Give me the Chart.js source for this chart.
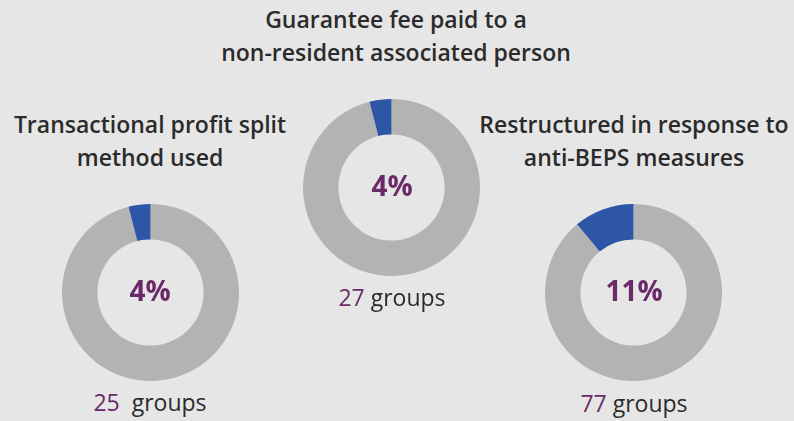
<!DOCTYPE html>
<html lang="en">
<head>
    <meta charset="UTF-8">
    <title>Transfer pricing shares</title>
    <script src="https://cdn.jsdelivr.net/npm/chart.js"></script>
    <style>
        body {
            margin: 0;
            width: 794px;
            height: 421px;
            background-color: #e6e6e6;
            font-family: "Open Sans", Arial, sans-serif;
            position: relative;
            overflow: hidden;
        }
        .donut {
            position: absolute;
            width: 177px;
            height: 177px;
        }
        .title, .pct, .count {
            position: absolute;
            transform: translate(-50%, -50%);
            white-space: nowrap;
            text-align: center;
        }
        .title {
            font-size: 23px;
            font-weight: 600;
            color: #2b2b2b;
            line-height: 33px;
        }
        .pct {
            font-size: 28px;
            font-weight: 700;
            color: #6a2a68;
        }
        .count {
            font-size: 23px;
            color: #2b2b2b;
        }
        .count span {
            color: #6a2a68;
        }
    </style>
</head>
<body>
    <div class="title" style="left:396px; top:36px;">Guarantee fee paid to a<br>non-resident associated person</div>
    <div class="title" style="left:150px; top:141px;">Transactional profit split<br>method used</div>
    <div class="title" style="left:634px; top:141px;">Restructured in response to<br>anti-BEPS measures</div>

    <div class="donut" style="left:62px; top:204px;"><canvas id="chart-split"></canvas></div>
    <div class="donut" style="left:303px; top:99px;"><canvas id="chart-guarantee"></canvas></div>
    <div class="donut" style="left:545px; top:204px;"><canvas id="chart-beps"></canvas></div>

    <div class="pct" id="pct-split" style="left:150px; top:290px;"></div>
    <div class="pct" id="pct-guarantee" style="left:392px; top:185px;"></div>
    <div class="pct" id="pct-beps" style="left:634px; top:290px;"></div>

    <div class="count" id="count-split" style="left:150px; top:402px;"></div>
    <div class="count" id="count-guarantee" style="left:392px; top:297px;"></div>
    <div class="count" id="count-beps" style="left:634px; top:403px;"></div>

    <script>
        // share of groups (%) for each question
        const chartIds = ['chart-split', 'chart-guarantee', 'chart-beps'];
        const sharePercent = [4, 4, 11];
        const groupCounts = [25, 27, 77];
        const keys = ['split', 'guarantee', 'beps'];

        const sliceColors = ['#b3b3b3', '#2e56a6'];

        chartIds.forEach((id, i) => {
            const share = sharePercent[i];
            new Chart(document.getElementById(id), {
                type: 'doughnut',
                data: {
                    labels: ['Other', 'Yes'],
                    datasets: [{
                        data: [100 - share, share],
                        backgroundColor: sliceColors,
                        borderWidth: 0
                    }]
                },
                options: {
                    responsive: true,
                    maintainAspectRatio: false,
                    animation: false,
                    cutout: '60%',
                    plugins: {
                        legend: { display: false },
                        tooltip: { enabled: false }
                    }
                }
            });

            document.getElementById('pct-' + keys[i]).textContent = share + '%';
            const gap = keys[i] === 'split' ? '&nbsp; ' : ' ';
            document.getElementById('count-' + keys[i]).innerHTML =
                '<span>' + groupCounts[i] + '</span>' + gap + 'groups';
        });
    </script>
</body>
</html>
